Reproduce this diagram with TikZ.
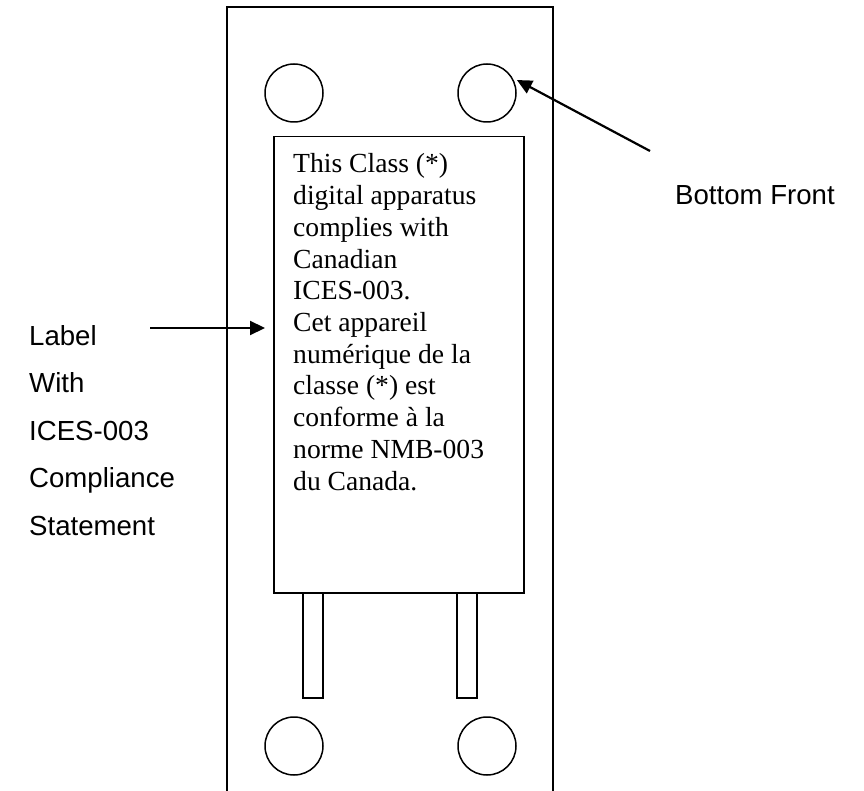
\documentclass[tikz,border=0pt]{standalone}
\usepackage{fontspec}
\setmainfont{Liberation Serif}
\newfontfamily\arialfont{Liberation Sans}
\usetikzlibrary{arrows.meta}
\begin{document}
\begin{tikzpicture}[x=1pt,y=-1pt,
  part/.style={draw,line width=1.5pt},
  hole/.style={circle,draw,line width=1.5pt,minimum size=58pt,inner sep=0pt},
  boxtext/.style={font=\fontsize{27.6}{31.7}\selectfont,inner sep=0pt,anchor=base west},
  sidetext/.style={font=\arialfont\fontsize{27.6}{33}\selectfont,inner sep=0pt,anchor=base west},
  pointer/.style={line width=2.2pt,-{Triangle[length=15pt,width=14pt]}}]
\useasboundingbox (0,0) rectangle (864,791);
% housing
\draw[part] (227,791) -- (227,7) -- (553,7) -- (553,791);
% holes
\node[hole] (h1) at (294,93) {};
\node[hole] (h2) at (487,93) {};
\node[hole] (h3) at (294,746) {};
\node[hole] (h4) at (487,746) {};
% legs
\draw[part] (303,592) rectangle (323,698);
\draw[part] (457,592) rectangle (477,698);
% label box
\node[part,fill=white,anchor=north west,minimum width=250pt,minimum height=456pt,inner sep=0pt] (label) at (273,136) {};
% label text
\foreach \t [count=\i] in {This Class (*),digital apparatus,complies with,Canadian,ICES-003.,Cet appareil,numérique de la,classe (*) est,conforme à la,norme NMB-003,du Canada.}
  \node[boxtext] (t\i) at (293,{173+(\i-1)*31.7}) {\t};
% side captions
\foreach \t [count=\i] in {Label,With,ICES-003,Compliance,Statement}
  \node[sidetext] (s\i) at (29,{345+(\i-1)*47.6}) {\t};
\node[sidetext] (bf) at (675,205) {Bottom Front};
% pointers
\coordinate (ltail) at (150,328);
\draw[pointer,shorten >=8pt] (ltail) -- (label.west |- ltail);
\coordinate (rtail) at (650,151);
\draw[pointer,shorten >=5pt] (rtail) -- (h2.31);
\end{tikzpicture}
\end{document}
